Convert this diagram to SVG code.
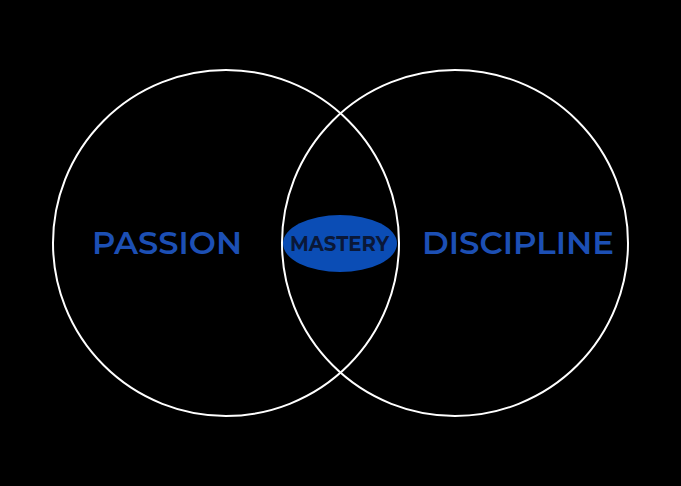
<svg xmlns="http://www.w3.org/2000/svg" width="681" height="486" viewBox="0 0 681 486">
<style>
.ring{fill:none;stroke:#ffffff;stroke-width:2}
.lbl{font-family:Montserrat,"Open Sans","Liberation Sans",sans-serif;font-weight:600;fill:#1c4fb4;font-size:32px}
.mid{font-family:Montserrat,"Open Sans","Liberation Sans",sans-serif;font-weight:700;fill:#0a1838;font-size:21px}
</style>
<rect width="681" height="486" fill="#000000"/>
<g id="passion">
<circle class="ring" cx="226" cy="243" r="173"/>
<text class="lbl" x="92" y="254" textLength="150" lengthAdjust="spacingAndGlyphs">PASSION</text>
</g>
<g id="discipline">
<circle class="ring" cx="455" cy="243" r="173"/>
<text class="lbl" x="422" y="254" textLength="192" lengthAdjust="spacingAndGlyphs">DISCIPLINE</text>
</g>
<g id="mastery">
<ellipse cx="340" cy="243.5" rx="57" ry="28.5" fill="#0b4db5"/>
<text class="mid" x="290" y="250.5" textLength="99" lengthAdjust="spacingAndGlyphs">MASTERY</text>
</g>
<g id="connectors"></g>
</svg>
